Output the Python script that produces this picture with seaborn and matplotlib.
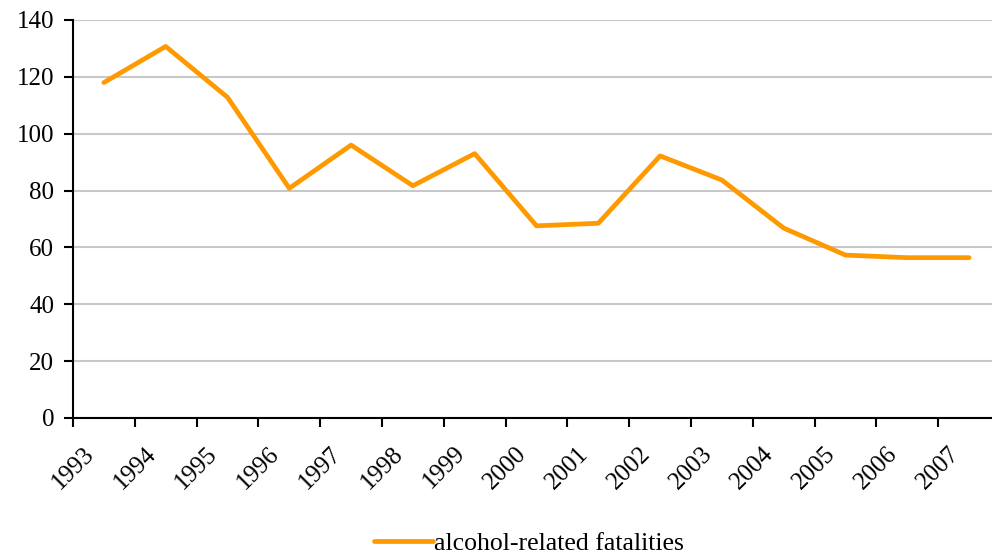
import numpy as np
import pandas as pd
import matplotlib
matplotlib.use("Agg")
import matplotlib.pyplot as plt
import seaborn as sns

years = [1993, 1994, 1995, 1996, 1997, 1998, 1999, 2000, 2001, 2002, 2003, 2004, 2005, 2006, 2007]
fatalities = [118, 130.7, 112.8, 80.8, 96.0, 81.7, 93.0, 67.6, 68.5, 92.2, 83.7, 66.8, 57.3, 56.4, 56.4]
series_name = "alcohol-related fatalities"
y_ticks = [0, 20, 40, 60, 80, 100, 120, 140]

sns.set_theme(style="white")
plt.rcParams['font.family'] = ['Liberation Serif', 'DejaVu Serif']
plt.rcParams['text.color'] = 'black'
plt.rcParams['xtick.color'] = 'black'
plt.rcParams['ytick.color'] = 'black'

df = pd.DataFrame({"year": years, "value": fatalities})
# points sit in the middle of each year's category
df["pos"] = df["year"] + 0.5

fig = plt.figure(figsize=(9.92, 5.57), dpi=100)
ax = fig.add_axes([73/992, 139/557, 927/992, 398/557])

sns.lineplot(data=df, x="pos", y="value", ax=ax, color="#FF9900", linewidth=3.4,
             label=series_name, legend=False)

ax.set_xlim(years[0], years[-1] + 1)
ax.set_ylim(y_ticks[0], y_ticks[-1])
ax.set_yticks(y_ticks)
ax.set_xticks(years)
ax.set_xticklabels([str(y) for y in years], rotation=45, ha="center", va="top")
ax.set_xlabel("")
ax.set_ylabel("")

ax.yaxis.grid(True, color="#c8c8c8", linewidth=1.5)
ax.set_axisbelow(True)
for s in ["top", "right"]:
    ax.spines[s].set_visible(False)
for s in ["left", "bottom"]:
    ax.spines[s].set_color("black")
    ax.spines[s].set_linewidth(1.5)

ax.tick_params(axis="y", which="major", direction="out", length=6.5, width=1.5,
               color="black", labelcolor="black", labelsize=18, pad=7, left=True)
ax.tick_params(axis="x", which="major", direction="out", length=6.5, width=1.5,
               color="black", labelcolor="black", labelsize=18, pad=11, bottom=True)

handles, labels = ax.get_legend_handles_labels()
fig.legend(handles, labels, loc="center", bbox_to_anchor=(0.533, 0.025),
           frameon=False, fontsize=18.5, handlelength=2.3, handletextpad=0.05,
           labelcolor="black")

fig.savefig("out.png", dpi=100)
